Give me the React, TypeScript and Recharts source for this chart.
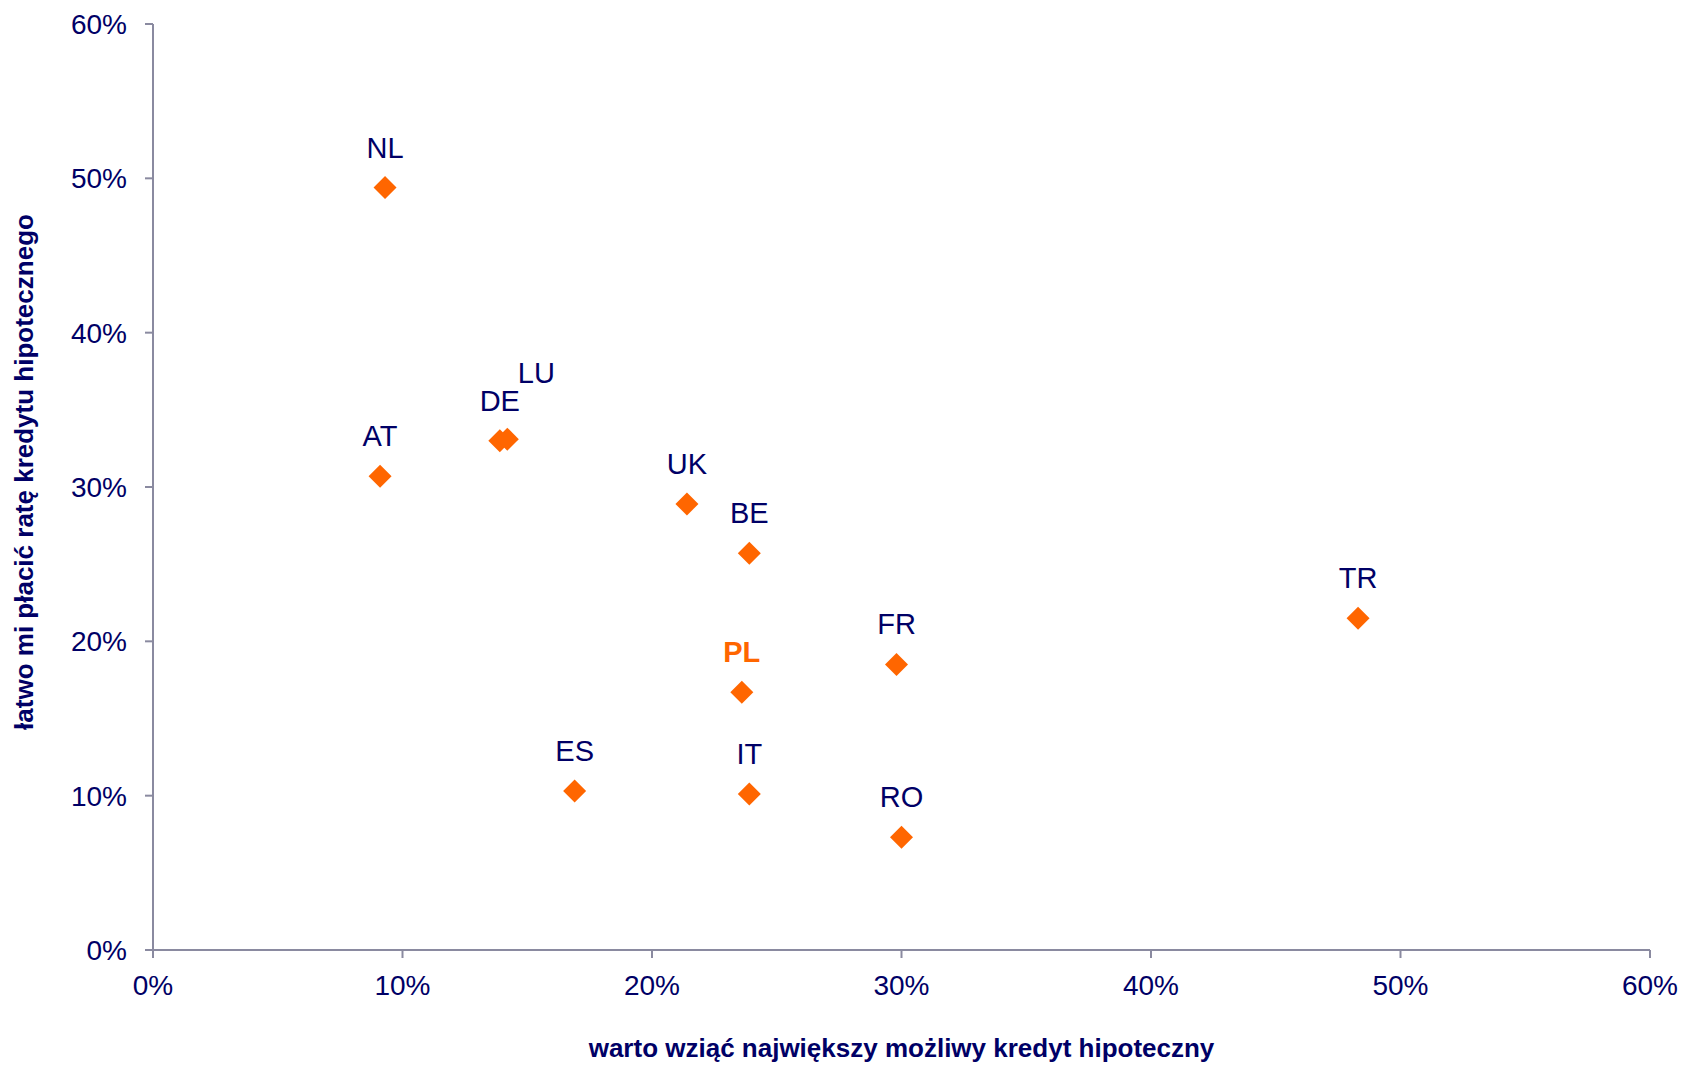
import { Scatter, ScatterChart, XAxis, YAxis } from 'recharts';

const countries = ['NL', 'AT', 'DE', 'LU', 'UK', 'BE', 'TR', 'FR', 'PL', 'ES', 'IT', 'RO'];
// warto wziąć największy możliwy kredyt hipoteczny (%)
const bigLoan = [9.3, 9.1, 13.9, 14.2, 21.4, 23.9, 48.3, 29.8, 23.6, 16.9, 23.9, 30.0];
// łatwo mi płacić ratę kredytu hipotecznego (%)
const easyPay = [49.4, 30.7, 33.0, 33.1, 28.9, 25.7, 21.5, 18.5, 16.7, 10.3, 10.1, 7.3];
const percentTicks = [0, 10, 20, 30, 40, 50, 60];

const NAVY = '#000066';
const ORANGE = '#FF6600';
const AXIS = '#8A8AA0';
const FONT = '"Liberation Sans", Arial, sans-serif';

const data = countries.map((name, i) => ({ name, x: bigLoan[i], y: easyPay[i] }));

const Diamond = (props: any) => {
  const { cx, cy, payload } = props;
  const r = 11.5;
  const isPL = payload.name === 'PL';
  // LU sits on top of DE, so its label is pushed up and right
  const dx = payload.name === 'LU' ? 29 : 0;
  const dy = payload.name === 'LU' ? -66 : -40;
  return (
    <g>
      <path
        d={`M${cx},${cy - r} L${cx + r},${cy} L${cx},${cy + r} L${cx - r},${cy} Z`}
        fill={ORANGE}
      />
      <text
        x={cx + dx}
        y={cy + dy}
        textAnchor="middle"
        dominantBaseline="central"
        fontFamily={FONT}
        fontSize={29}
        fontWeight={isPL ? 'bold' : 'normal'}
        fill={isPL ? ORANGE : NAVY}
      >
        {payload.name}
      </text>
    </g>
  );
};

const xTitle = (props: any) => {
  const vb = props.viewBox || { x: 145, y: 942, width: 1497, height: 100 };
  return (
    <text
      x={vb.x + vb.width / 2}
      y={vb.y + 98}
      textAnchor="middle"
      dominantBaseline="central"
      fontFamily={FONT}
      fontSize={26}
      fontWeight="bold"
      fill={NAVY}
    >
      warto wziąć największy możliwy kredyt hipoteczny
    </text>
  );
};

const yTitle = (props: any) => {
  const vb = props.viewBox || { x: 6, y: 16, width: 139, height: 926 };
  const x = vb.x + 10;
  const y = vb.y + vb.height / 2 - 15;
  return (
    <text
      x={x}
      y={y}
      transform={`rotate(-90, ${x}, ${y})`}
      textAnchor="middle"
      dominantBaseline="central"
      fontFamily={FONT}
      fontSize={26}
      fontWeight="bold"
      fill={NAVY}
    >
      łatwo mi płacić ratę kredytu hipotecznego
    </text>
  );
};

export default function App() {
  return (
    <div style={{ background: '#fff' }}>
      <ScatterChart
        width={1670}
        height={1057}
        margin={{ top: 16, right: 28, left: 6, bottom: 15 }}
      >
        <XAxis
          type="number"
          dataKey="x"
          domain={[0, 60]}
          ticks={percentTicks}
          tickFormatter={(v: number) => `${v}%`}
          height={100}
          tickSize={8}
          tickMargin={17}
          axisLine={{ stroke: AXIS, strokeWidth: 2 }}
          tickLine={{ stroke: AXIS, strokeWidth: 2 }}
          tick={{ fill: NAVY, fontSize: 28, fontFamily: FONT }}
          label={xTitle}
        />
        <YAxis
          type="number"
          dataKey="y"
          domain={[0, 60]}
          ticks={percentTicks}
          tickFormatter={(v: number) => `${v}%`}
          width={139}
          tickSize={8}
          tickMargin={18}
          axisLine={{ stroke: AXIS, strokeWidth: 2 }}
          tickLine={{ stroke: AXIS, strokeWidth: 2 }}
          tick={{ fill: NAVY, fontSize: 28, fontFamily: FONT }}
          label={yTitle}
        />
        <Scatter data={data} fill={ORANGE} shape={Diamond} isAnimationActive={false} />
      </ScatterChart>
    </div>
  );
}
